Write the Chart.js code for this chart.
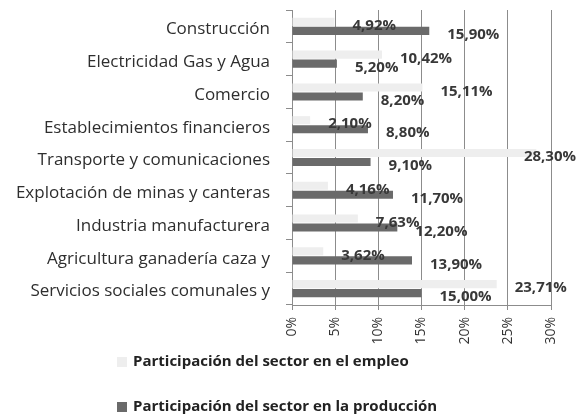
<!DOCTYPE html>
<html>
<head>
<meta charset="utf-8">
<script src="https://cdn.jsdelivr.net/npm/chart.js@4.4.1/dist/chart.umd.min.js"></script>
<style>
  html, body { margin: 0; padding: 0; background: #fff; }
  #wrap { width: 577px; height: 416px; }
</style>
</head>
<body>
<div id="wrap"><canvas id="chartBar"></canvas></div>
<script>
  const sectores = [
    'Construcción',
    'Electricidad Gas y Agua',
    'Comercio',
    'Establecimientos financieros',
    'Transporte y comunicaciones',
    'Explotación de minas y canteras',
    'Industria manufacturera',
    'Agricultura ganadería caza y',
    'Servicios sociales comunales y'
  ];
  const empleo = [4.92, 10.42, 15.11, 2.10, 28.30, 4.16, 7.63, 3.62, 23.71];
  const produccion = [15.90, 5.20, 8.20, 8.80, 9.10, 11.70, 12.20, 13.90, 15.00];
  const ticksX = [0, 5, 10, 15, 20, 25, 30];

  const gris = '#8c8c8c';
  const fuente = '"Open Sans"';

  // etiquetas de valor a la derecha de cada barra
  const valueLabels = {
    id: 'valueLabels',
    afterDatasetsDraw(chart) {
      const ctx = chart.ctx;
      ctx.save();
      ctx.font = 'bold 15px ' + fuente;
      ctx.fillStyle = '#383838';
      ctx.textBaseline = 'middle';
      chart.data.datasets.forEach((ds, i) => {
        chart.getDatasetMeta(i).data.forEach((bar, j) => {
          const txt = ds.data[j].toFixed(2).replace('.', ',') + '%';
          const w = ctx.measureText(txt).width;
          const x = Math.min(bar.x + 18, chart.width - w - 1);
          ctx.fillText(txt, x, bar.y + 4);
        });
      });
      ctx.restore();
    }
  };

  // leyenda en dos filas, alineada a la izquierda bajo el eje
  const legendAbajo = {
    id: 'legendAbajo',
    afterDraw(chart) {
      const ctx = chart.ctx;
      ctx.save();
      ctx.font = 'bold 15px ' + fuente;
      ctx.textBaseline = 'middle';
      chart.data.datasets.forEach((ds, i) => {
        const y = chart.chartArea.bottom + 57 + i * 45;
        ctx.fillStyle = ds.backgroundColor;
        ctx.fillRect(117, y - 5, 10, 10);
        ctx.fillStyle = '#222';
        ctx.fillText(ds.label, 133, y);
      });
      ctx.restore();
    }
  };

  new Chart(document.getElementById('chartBar'), {
    type: 'bar',
    data: {
      labels: sectores,
      datasets: [{
        label: 'Participación del sector en el empleo',
        data: empleo,
        backgroundColor: '#eeeeee',
        borderWidth: 0
      }, {
        label: 'Participación del sector en la producción',
        data: produccion,
        backgroundColor: '#6a6a6a',
        borderWidth: 0
      }]
    },
    options: {
      indexAxis: 'y',
      responsive: true,
      maintainAspectRatio: false,
      animation: false,
      categoryPercentage: 0.55,
      barPercentage: 0.9,
      layout: { padding: { top: 10, right: 26, bottom: 66 } },
      scales: {
        x: {
          min: 0,
          max: 30,
          afterBuildTicks: (scale) => { scale.ticks = ticksX.map(v => ({ value: v })); },
          afterFit: (scale) => { scale.height = 45; },
          grid: { color: gris, lineWidth: 1, tickLength: 5 },
          border: { color: gris },
          ticks: {
            minRotation: 90,
            maxRotation: 90,
            padding: 7,
            color: '#333',
            font: { family: fuente, size: 14 },
            callback: (v) => v + '%'
          }
        },
        y: {
          afterFit: (scale) => {
            scale.width = 292;
            scale.paddingTop = 0;
            scale.paddingBottom = 0;
          },
          grid: { drawOnChartArea: false, color: gris, tickLength: 6 },
          border: { color: gris },
          ticks: {
            padding: 16,
            labelOffset: 3,
            color: '#2e2e2e',
            font: { family: fuente, size: 17 }
          }
        }
      },
      plugins: {
        legend: { display: false },
        tooltip: { enabled: false }
      }
    },
    plugins: [valueLabels, legendAbajo]
  });
</script>
</body>
</html>
